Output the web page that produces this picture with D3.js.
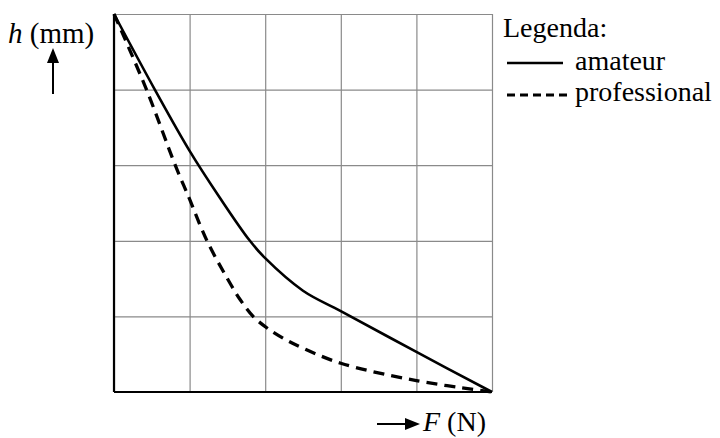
<!DOCTYPE html>
<html>
<head>
<meta charset="utf-8">
<script src="https://cdn.jsdelivr.net/npm/d3@7"></script>
<style>
body { margin: 0; background: #fff; }
text { font-family: "Liberation Serif", "Times New Roman", serif; fill: #000; }
</style>
</head>
<body>
<div id="chart"></div>
<script>
// grid units (5 x 5 cells, no numeric ticks)
var gridTicks = [0, 1, 2, 3, 4, 5];
var amateurF = [0, 0.54, 1, 1.4, 1.79, 2, 2.5, 3, 4, 5];
var amateurH = [5, 4, 3.19, 2.57, 2.01, 1.77, 1.34, 1.07, 0.53, 0];
var profF = [0, 0.43, 0.81, 1, 1.23, 1.5, 1.67, 1.84, 2.02, 2.24, 2.5, 3, 4, 5];
var profH = [5, 4, 3, 2.55, 2, 1.5, 1.22, 1.0, 0.85, 0.71, 0.58, 0.38, 0.15, 0];
var legendLabels = ["amateur", "professional"];

function drawChart(identifier) {
	var margin = {
		top : 14,
		right : 228,
		bottom : 46,
		left : 114
	}, width = 720 - margin.left - margin.right, height = 438 - margin.top
			- margin.bottom;

	var x = d3.scaleLinear().domain([ 0, 5 ]).range([ 0, width ]);
	var y = d3.scaleLinear().domain([ 0, 5 ]).range([ height, 0 ]);

	var svg = d3.select(identifier).append("svg").attr("width", 720)
			.attr("height", 438);
	var g = svg.append("g").attr("transform",
			"translate(" + margin.left + "," + margin.top + ")");

	// grid
	g.append("g").call(
			d3.axisTop(x).tickValues(gridTicks).tickSize(-height)
					.tickFormat("")).call(function(a) {
		a.select(".domain").remove();
		a.selectAll("line").attr("stroke", "#8a8a8a").attr("stroke-width", 1.2);
	});
	g.append("g").call(
			d3.axisLeft(y).tickValues(gridTicks).tickSize(-width)
					.tickFormat("")).call(function(a) {
		a.select(".domain").remove();
		a.selectAll("line").attr("stroke", "#8a8a8a").attr("stroke-width", 1.2);
	});

	// axes
	g.append("line").attr("x1", x(0)).attr("x2", x(0)).attr("y1", y(0))
			.attr("y2", y(5)).attr("stroke", "#000").attr("stroke-width", 2.2);
	g.append("line").attr("x1", x(0)).attr("x2", x(5)).attr("y1", y(0))
			.attr("y2", y(0)).attr("stroke", "#000").attr("stroke-width", 2.2);

	var line = d3.line().x(function(d) {
		return x(d[0]);
	}).y(function(d) {
		return y(d[1]);
	}).curve(d3.curveCatmullRom.alpha(0.5));

	g.append("path").datum(d3.zip(amateurF, amateurH)).attr("d", line)
			.attr("fill", "none").attr("stroke", "#000").attr("stroke-width", 2.6);
	g.append("path").datum(d3.zip(profF, profH)).attr("d", line)
			.attr("fill", "none").attr("stroke", "#000").attr("stroke-width", 3.3)
			.attr("stroke-dasharray", "11,7");

	// axis titles
	var ht = svg.append("text").attr("x", 8).attr("y", 43).attr("font-size", 29);
	ht.append("tspan").attr("font-style", "italic").text("h");
	ht.append("tspan").text(" (mm)");
	svg.append("line").attr("x1", 53).attr("x2", 53).attr("y1", 94).attr("y2", 60)
			.attr("stroke", "#000").attr("stroke-width", 2);
	svg.append("path").attr("d", "M47,63 L53,48 L59,63 Z").attr("fill", "#000");

	svg.append("line").attr("x1", 377).attr("x2", 408).attr("y1", 424).attr("y2", 424)
			.attr("stroke", "#000").attr("stroke-width", 2);
	svg.append("path").attr("d", "M405,418 L420,424 L405,430 Z").attr("fill", "#000");
	var ft = svg.append("text").attr("x", 423).attr("y", 431).attr("font-size", 28);
	ft.append("tspan").attr("font-style", "italic").text("F");
	ft.append("tspan").text(" (N)");

	// legend
	svg.append("text").attr("x", 503).attr("y", 37).attr("font-size", 28).text("Legenda:");
	svg.append("line").attr("x1", 507).attr("x2", 563).attr("y1", 63).attr("y2", 63)
			.attr("stroke", "#000").attr("stroke-width", 2.6);
	svg.append("text").attr("x", 575).attr("y", 70).attr("font-size", 28).text(legendLabels[0]);
	svg.append("line").attr("x1", 507).attr("x2", 567).attr("y1", 95).attr("y2", 95)
			.attr("stroke", "#000").attr("stroke-width", 2.8).attr("stroke-dasharray", "8,5");
	svg.append("text").attr("x", 575).attr("y", 101).attr("font-size", 28).text(legendLabels[1]);
}

drawChart("#chart");
</script>
</body>
</html>
